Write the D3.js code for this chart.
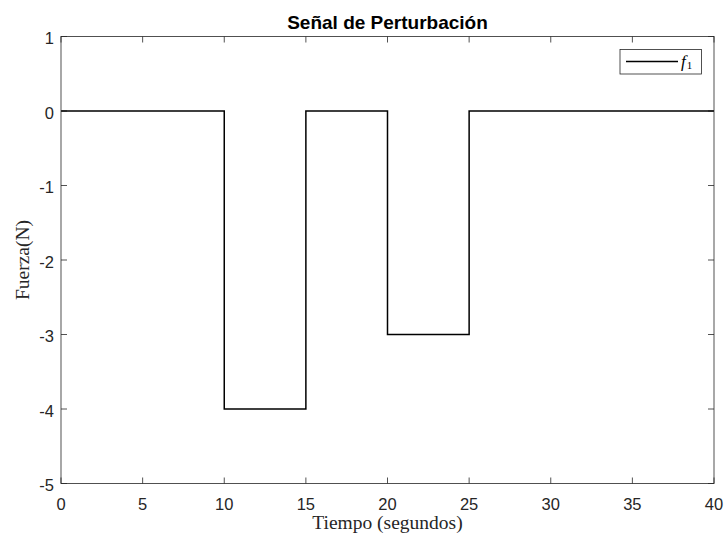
<!DOCTYPE html>
<html>
<head>
<meta charset="utf-8">
<script src="https://cdn.jsdelivr.net/npm/d3@7"></script>
<style>
  html, body { margin: 0; padding: 0; background: #fff; }
  svg { display: block; }
</style>
</head>
<body>
<svg id="chart" width="725" height="535"></svg>
<script>
// Disturbance force: piecewise-constant steps (value holds until next time)
const stepTimes  = [0, 10, 15, 20, 25, 40];
const stepForces = [0, -4, 0, -3, 0, 0];
const xTicks = [0, 5, 10, 15, 20, 25, 30, 35, 40];
const yTicks = [1, 0, -1, -2, -3, -4, -5];
const seriesName = "f";
const seriesSub = "1";

const svg = d3.select("#chart");
const m = { left: 61, right: 714, top: 36.5, bottom: 483.5 };
const axisColor = "#262626";
const sans = "Liberation Sans, Arial, sans-serif";
const serif = "Liberation Serif, Times New Roman, serif";

const x = d3.scaleLinear().domain([0, 40]).range([m.left, m.right]);
const y = d3.scaleLinear().domain([-5, 1]).range([m.bottom, m.top]);

const tickLen = 6;
const g = svg.append("g");

// tick marks (inward, mirrored on the opposite sides) and labels
xTicks.forEach(t => {
  const px = x(t);
  g.append("line").attr("x1", px).attr("x2", px).attr("y1", m.bottom).attr("y2", m.bottom - tickLen)
    .attr("stroke", axisColor).attr("stroke-width", 0.8);
  g.append("line").attr("x1", px).attr("x2", px).attr("y1", m.top).attr("y2", m.top + tickLen)
    .attr("stroke", axisColor).attr("stroke-width", 0.8);
  g.append("text").attr("x", px).attr("y", m.bottom + 26.5)
    .attr("text-anchor", "middle").attr("font-family", sans)
    .attr("font-size", 16.5).attr("fill", axisColor).text(t);
});
yTicks.forEach(t => {
  const py = y(t);
  g.append("line").attr("x1", m.left).attr("x2", m.left + tickLen).attr("y1", py).attr("y2", py)
    .attr("stroke", axisColor).attr("stroke-width", 0.8);
  g.append("line").attr("x1", m.right).attr("x2", m.right - tickLen).attr("y1", py).attr("y2", py)
    .attr("stroke", axisColor).attr("stroke-width", 0.8);
  g.append("text").attr("x", m.left - 7).attr("y", py + 7.5)
    .attr("text-anchor", "end").attr("font-family", sans)
    .attr("font-size", 16.5).attr("fill", axisColor).text(t);
});

// data line
const pts = stepTimes.map((t, i) => [t, stepForces[i]]);
const line = d3.line().x(d => x(d[0])).y(d => y(d[1])).curve(d3.curveStepAfter);
svg.append("path").attr("d", line(pts)).attr("fill", "none")
  .attr("stroke", "#000").attr("stroke-width", 1.5);

// axes box
svg.append("rect").attr("x", m.left).attr("y", m.top)
  .attr("width", m.right - m.left).attr("height", m.bottom - m.top)
  .attr("fill", "none").attr("stroke", axisColor).attr("stroke-width", 0.8);

// title
svg.append("text").attr("x", (m.left + m.right) / 2).attr("y", 28.5)
  .attr("text-anchor", "middle").attr("font-family", sans)
  .attr("font-weight", "bold").attr("font-size", 19).attr("fill", "#000")
  .text("Señal de Perturbación");

// axis labels
svg.append("text").attr("x", (m.left + m.right) / 2).attr("y", 528.5)
  .attr("text-anchor", "middle").attr("font-family", serif)
  .attr("font-size", 19.5).attr("fill", axisColor).text("Tiempo (segundos)");
svg.append("text").attr("transform", `translate(29,${(m.top + m.bottom) / 2}) rotate(-90)`)
  .attr("text-anchor", "middle").attr("font-family", serif)
  .attr("font-size", 19.5).attr("fill", axisColor).text("Fuerza(N)");

// legend
const lg = svg.append("g");
lg.append("rect").attr("x", 620).attr("y", 49.5).attr("width", 81.5).attr("height", 24.5)
  .attr("fill", "#fff").attr("stroke", axisColor).attr("stroke-width", 0.8);
lg.append("line").attr("x1", 626).attr("x2", 678).attr("y1", 61.5).attr("y2", 61.5)
  .attr("stroke", "#000").attr("stroke-width", 1.5);
const lt = lg.append("text").attr("x", 681).attr("y", 67)
  .attr("font-family", serif)
  .attr("font-size", 17).attr("fill", "#000");
lt.append("tspan").attr("font-style", "italic").text(seriesName);
lt.append("tspan").attr("font-size", 11).attr("dx", 1).attr("dy", 2).text(seriesSub);
</script>
</body>
</html>
